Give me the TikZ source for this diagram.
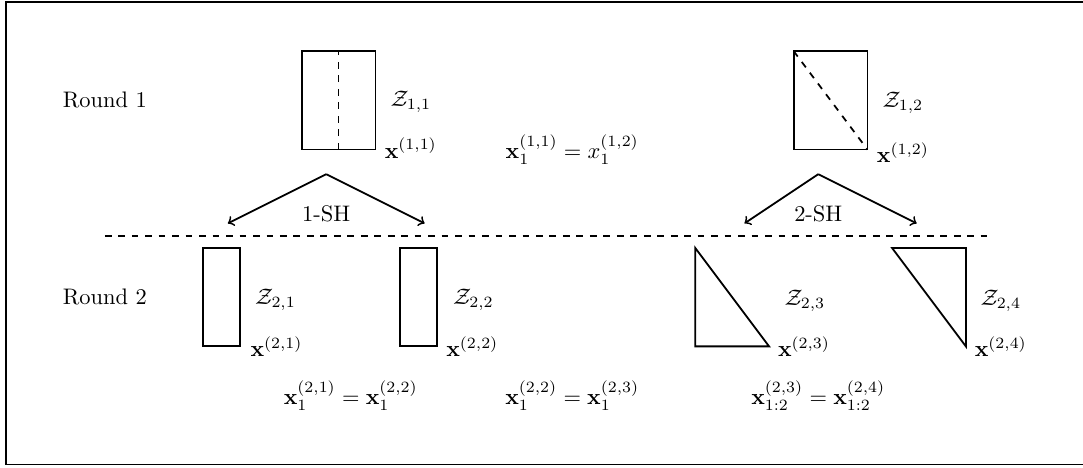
\documentclass[tikz,border=0pt]{standalone}
\usepackage{amsmath}
\begin{document}
\begin{tikzpicture}[x=0.77cm,y=0.77cm,box/.style={thick},cut/.style={thick,dashed},split/.style={->,thick}]
\useasboundingbox (-4.13,-2.47) rectangle (17.88,7.04);
\draw[thick] (-4,-2.4) rectangle (18,7);
\node (rnd1) at (-2,5) {Round 1};
\node (rnd2) at (-2,1) {Round 2};
\coordinate (cutl) at (-2,2.25);
\coordinate (cutr) at (16,2.25);
\draw[cut] (cutl)--(cutr);
\begin{scope}
\draw[box] (2,4) rectangle (3.5,6);
\draw[cut] (2.75,4)--(2.75,6);
\node (z11) at (4.22,4.97) {$\mathcal{Z}_{1,1}$};
\node (x11) at (4.22,4.03) {$\mathbf{x}^{(1,1)}$};
\draw[box] (12,4) rectangle (13.5,6);
\draw[cut] (12,6)--(13.5,4);
\node (z12) at (14.22,4.95) {$\mathcal{Z}_{1,2}$};
\node (x12) at (14.22,3.93) {$\mathbf{x}^{(1,2)}$};
\node (eq1) at (7.5,4) {$\mathbf{x}_1^{(1,1)} = x_1^{(1,2)}$};
\end{scope}
\coordinate (top1) at (2.5,3.5);
\coordinate (left1) at (0.5,2.5);
\coordinate (right1) at (4.5,2.5);
\draw[split] (top1)--(left1);
\draw[split] (top1)--(right1);
\node (sh1) at (2.5,2.7) {1-SH};
\coordinate (top2) at (12.5,3.5);
\coordinate (left2) at (11,2.5);
\coordinate (right2) at (14.5,2.5);
\draw[split] (top2)--(left2);
\draw[split] (top2)--(right2);
\node (sh2) at (12.5,2.7) {2-SH};
\begin{scope}
\draw[box] (0,0) rectangle (0.75,2);
\node (z21) at (1.47,0.94) {$\mathcal{Z}_{2,1}$};
\node (x21) at (1.49,0) {$\mathbf{x}^{(2,1)}$};
\draw[box] (4,0) rectangle (4.75,2);
\node (z22) at (5.49,0.94) {$\mathcal{Z}_{2,2}$};
\node (x22) at (5.47,0) {$\mathbf{x}^{(2,2)}$};
\draw[box] (10,2)--(10,0)--(11.5,0)--cycle;
\node (z23) at (12.23,0.92) {$\mathcal{Z}_{2,3}$};
\node (x23) at (12.21,0) {$\mathbf{x}^{(2,3)}$};
\draw[box] (14,2)--(15.5,2)--(15.5,0)--cycle;
\node (z24) at (16.21,0.92) {$\mathcal{Z}_{2,4}$};
\node (x24) at (16.21,0) {$\mathbf{x}^{(2,4)}$};
\node (eq2) at (3,-1) {$\mathbf{x}_1^{(2,1)} = \mathbf{x}_1^{(2,2)}$};
\node (eq3) at (7.5,-1) {$\mathbf{x}_1^{(2,2)} = \mathbf{x}_1^{(2,3)}$};
\node (eq4) at (12.5,-1) {$\mathbf{x}_{1:2}^{(2,3)} = \mathbf{x}_{1:2}^{(2,4)}$};
\end{scope}
\end{tikzpicture}
\end{document}
